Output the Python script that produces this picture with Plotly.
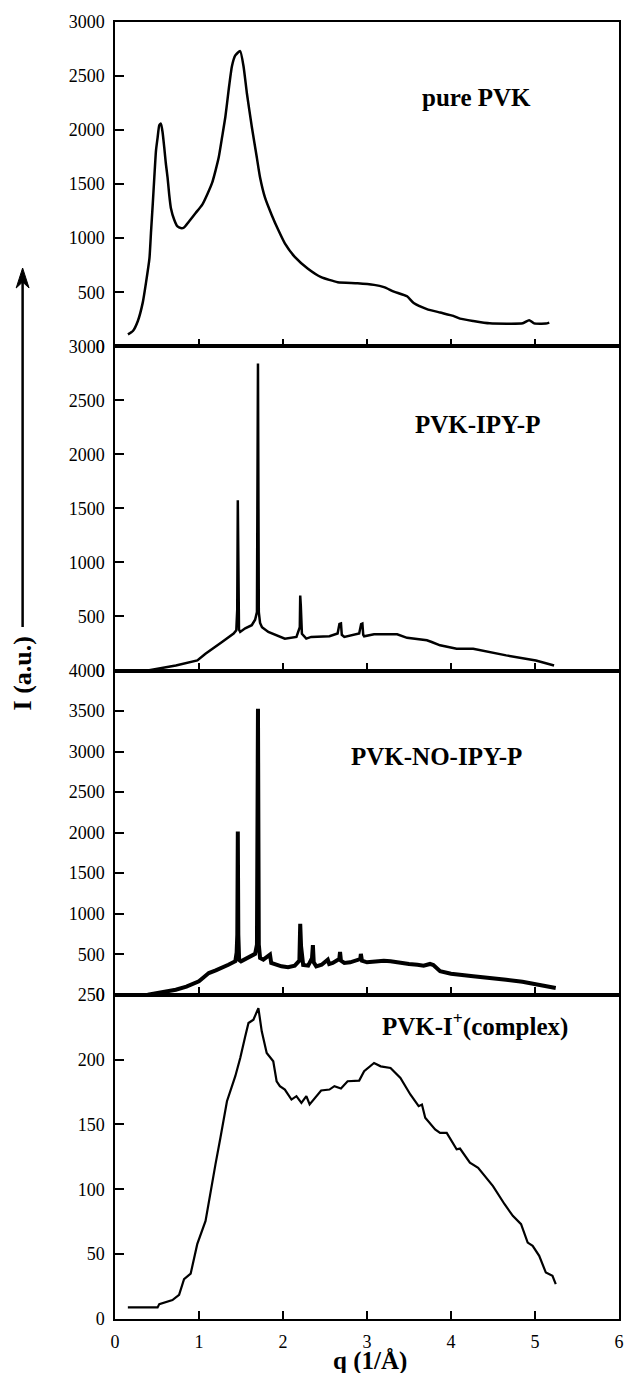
import plotly.graph_objects as go
from plotly.subplots import make_subplots

# ---- data: scattering intensity I vs q (1/Å) ----
q_pvk = [0.154, 0.213, 0.272, 0.331, 0.370, 0.410, 0.429, 0.449, 0.468, 0.488, 0.508, 0.527,
         0.547, 0.566, 0.586, 0.606, 0.626, 0.645, 0.665, 0.705, 0.744, 0.783, 0.822, 0.881,
         0.960, 1.039, 1.098, 1.157, 1.196, 1.235, 1.275, 1.314, 1.353, 1.392, 1.432, 1.490,
         1.530, 1.570, 1.629, 1.688, 1.727, 1.786, 1.864, 1.943, 2.022, 2.140, 2.297, 2.454,
         2.651, 2.887, 3.084, 3.202, 3.320, 3.477, 3.556, 3.713, 3.871, 4.028, 4.107, 4.264,
         4.460, 4.854, 4.930, 4.990, 5.129, 5.170]
i_pvk = [110, 141, 234, 406, 593, 812, 1061, 1311, 1561, 1811, 1935, 2045,
         2060, 1982, 1842, 1686, 1561, 1405, 1280, 1171, 1108, 1093, 1099, 1155,
         1233, 1311, 1405, 1514, 1623, 1748, 1935, 2123, 2372, 2591, 2691, 2731,
         2591, 2341, 2029, 1748, 1561, 1374, 1217, 1077, 952, 827, 718, 640,
         593, 584, 568, 547, 506, 462, 400, 344, 312, 281, 256, 234,
         212, 212, 241, 212, 210, 219]

q_ipy = [0.39, 0.55, 0.724, 0.98, 1.077, 1.274, 1.412, 1.444, 1.455, 1.462, 1.468, 1.476,
         1.49, 1.55, 1.628, 1.668, 1.69, 1.702, 1.712, 1.727, 1.75, 1.825, 2.022, 2.16,
         2.2, 2.205, 2.212, 2.225, 2.277, 2.336, 2.553, 2.65, 2.672, 2.69, 2.70, 2.73,
         2.907, 2.93, 2.945, 2.955, 2.966, 3.084, 3.359, 3.477, 3.713, 3.77, 3.87, 4.067,
         4.264, 4.657, 5.011, 5.227]
i_ipy = [0, 20, 47, 93, 155, 264, 342, 372, 560, 1574, 560, 380,
         357, 390, 419, 470, 540, 2840, 540, 440, 400, 357, 295, 311,
         400, 693, 600, 340, 295, 311, 317, 342, 430, 435, 330, 311,
         342, 430, 435, 330, 317, 335, 335, 302, 279, 264, 233, 202,
         202, 140, 93, 47]

q_noipy = [0.39, 0.55, 0.724, 0.85, 0.999, 1.06, 1.117, 1.2, 1.274, 1.35, 1.432, 1.448,
           1.456, 1.462, 1.468, 1.478, 1.5, 1.55, 1.6, 1.668, 1.69, 1.702, 1.712, 1.727,
           1.766, 1.845, 1.86, 1.92, 1.982, 2.06, 2.14, 2.195, 2.205, 2.215, 2.24, 2.3,
           2.345, 2.356, 2.366, 2.396, 2.46, 2.533, 2.55, 2.592, 2.67, 2.679, 2.69, 2.73,
           2.8, 2.92, 2.927, 2.94, 3.0, 3.1, 3.2, 3.28, 3.4, 3.5, 3.6, 3.674,
           3.75, 3.79, 3.87, 4.0, 4.264, 4.45, 4.657, 4.85, 5.011, 5.247]
i_noipy = [0, 25, 62, 100, 166, 220, 268, 300, 330, 370, 413, 520,
           743, 2014, 743, 430, 413, 440, 470, 504, 619, 3527, 619, 454,
           433, 495, 392, 370, 351, 340, 359, 420, 875, 600, 367, 359,
           450, 611, 400, 351, 370, 433, 380, 392, 440, 528, 420, 392,
           400, 440, 504, 420, 400, 410, 420, 413, 392, 380, 370, 359,
           380, 367, 290, 260, 227, 210, 186, 160, 132, 83]

q_cplx = [0.153, 0.507, 0.527, 0.684, 0.763, 0.822, 0.901, 0.94, 0.979, 1.078, 1.137, 1.196,
          1.255, 1.333, 1.432, 1.491, 1.55, 1.589, 1.648, 1.707, 1.747, 1.806, 1.884, 1.924,
          1.963, 2.022, 2.101, 2.16, 2.219, 2.278, 2.317, 2.454, 2.553, 2.612, 2.69, 2.769,
          2.907, 2.966, 3.084, 3.163, 3.28, 3.398, 3.516, 3.615, 3.654, 3.693, 3.811, 3.87,
          3.949, 4.067, 4.107, 4.225, 4.323, 4.5, 4.638, 4.736, 4.834, 4.913, 4.972, 5.05,
          5.129, 5.208, 5.247]
i_cplx = [8.9, 8.9, 11.5, 14.6, 18.7, 30.8, 35.0, 47.4, 57.7, 75.6, 98.7, 119.2,
          139.7, 167.9, 187.2, 201.2, 217.9, 228.2, 230.8, 239.7, 221.8, 205.1, 198.7, 183.3,
          179.5, 176.9, 169.2, 171.8, 166.6, 171.8, 165.4, 176.2, 176.9, 179.5, 177.7, 183.3,
          183.8, 191.0, 197.4, 194.8, 193.5, 185.8, 173.1, 164.1, 165.3, 155.1, 146.2, 143.5,
          143.5, 130.8, 131.4, 120.5, 116.6, 102.5, 88.5, 79.5, 73.1, 58.9, 56.4, 48.7,
          35.8, 33.3, 26.9]

panel_names = ["pure PVK", "PVK-IPY-P", "PVK-NO-IPY-P", "PVK-I<sup>+</sup>(complex)"]
y_tops = [3000, 3000, 4000, 250]
y_steps = [500, 500, 500, 50]
x_ticks = [0, 1, 2, 3, 4, 5, 6]

# (q, I, line width, line shape)
series = [(q_pvk, i_pvk, 2.5, "spline"), (q_ipy, i_ipy, 2.5, "linear"),
          (q_noipy, i_noipy, 4, "linear"), (q_cplx, i_cplx, 2.2, "linear")]

# label anchor positions (data units of each panel)
label_pos = [(4.30, 2300), (4.32, 2280), (3.83, 2945), (4.29, 227)]

W, H = 630, 1373
ML, MR, MT, MB = 115, 6, 22, 54

fig = make_subplots(rows=4, cols=1, shared_xaxes=True, vertical_spacing=0)

for k, (qx, iy, lw, shp) in enumerate(series):
    line = dict(color="black", width=lw, shape=shp)
    if shp == "spline":
        line["smoothing"] = 0.5
    fig.add_trace(go.Scatter(x=qx, y=iy, mode="lines", line=line,
                             showlegend=False, hoverinfo="skip"),
                  row=k + 1, col=1)

tick_font = dict(family="Liberation Serif", size=18, color="black")
for k in range(4):
    top = y_tops[k]
    vals = list(range(0, top + 1, y_steps[k]))
    fig.update_yaxes(range=[0, top], tickvals=vals, ticktext=[str(v) for v in vals],
                     ticks="inside", ticklen=9, tickwidth=1.5, tickcolor="black",
                     showline=True, linewidth=1.5, linecolor="black", mirror=True,
                     showgrid=False, zeroline=False, tickfont=tick_font,
                     ticklabelstandoff=5, row=k + 1, col=1)
    fig.update_xaxes(range=[0, 6], tickvals=x_ticks, ticktext=[str(v) for v in x_ticks],
                     ticks="inside", ticklen=8, tickwidth=1.5, tickcolor="black",
                     showline=True, linewidth=1.5, linecolor="black", mirror=True,
                     showgrid=False, zeroline=False, tickfont=tick_font,
                     ticklabelstandoff=6, row=k + 1, col=1)
    xr = "x" if k == 0 else f"x{k + 1}"
    yr = "y" if k == 0 else f"y{k + 1}"
    fig.add_annotation(x=label_pos[k][0], y=label_pos[k][1], xref=xr, yref=yr,
                       text=f"<b>{panel_names[k]}</b>", showarrow=False,
                       font=dict(family="Liberation Serif", size=25, color="black"),
                       xanchor="center", yanchor="middle")

pw = W - ML - MR
ph = H - MT - MB


def px_x(px):
    return (px - ML) / pw


def px_y(py):
    return (H - MB - py) / ph


# axis titles
fig.add_annotation(x=px_x(373), y=px_y(1361), xref="paper", yref="paper",
                   text="<b>q (1/Å)</b>", showarrow=False,
                   font=dict(family="Liberation Serif", size=25, color="black"),
                   xanchor="center", yanchor="middle")
fig.add_annotation(x=px_x(22.5), y=px_y(673), xref="paper", yref="paper",
                   text="<b>I (a.u.)</b>", showarrow=False, textangle=-90,
                   font=dict(family="Liberation Serif", size=26, color="black"),
                   xanchor="center", yanchor="middle")

# upward arrow beside the intensity label
ax_x = 21.7
fig.add_shape(type="line", xref="paper", yref="paper",
              x0=px_x(ax_x), x1=px_x(ax_x), y0=px_y(627), y1=px_y(280),
              line=dict(color="black", width=2.5))
head = (f"M {px_x(ax_x)} {px_y(268)} L {px_x(ax_x - 6.5)} {px_y(288)} "
        f"L {px_x(ax_x)} {px_y(282)} L {px_x(ax_x + 6.5)} {px_y(288)} Z")
fig.add_shape(type="path", xref="paper", yref="paper", path=head,
              fillcolor="black", line=dict(color="black", width=1))

fig.update_layout(width=W, height=H, margin=dict(l=ML, r=MR, t=MT, b=MB),
                  paper_bgcolor="white", plot_bgcolor="white",
                  font=dict(family="Liberation Serif", color="black"))

fig.write_html("out.html")
